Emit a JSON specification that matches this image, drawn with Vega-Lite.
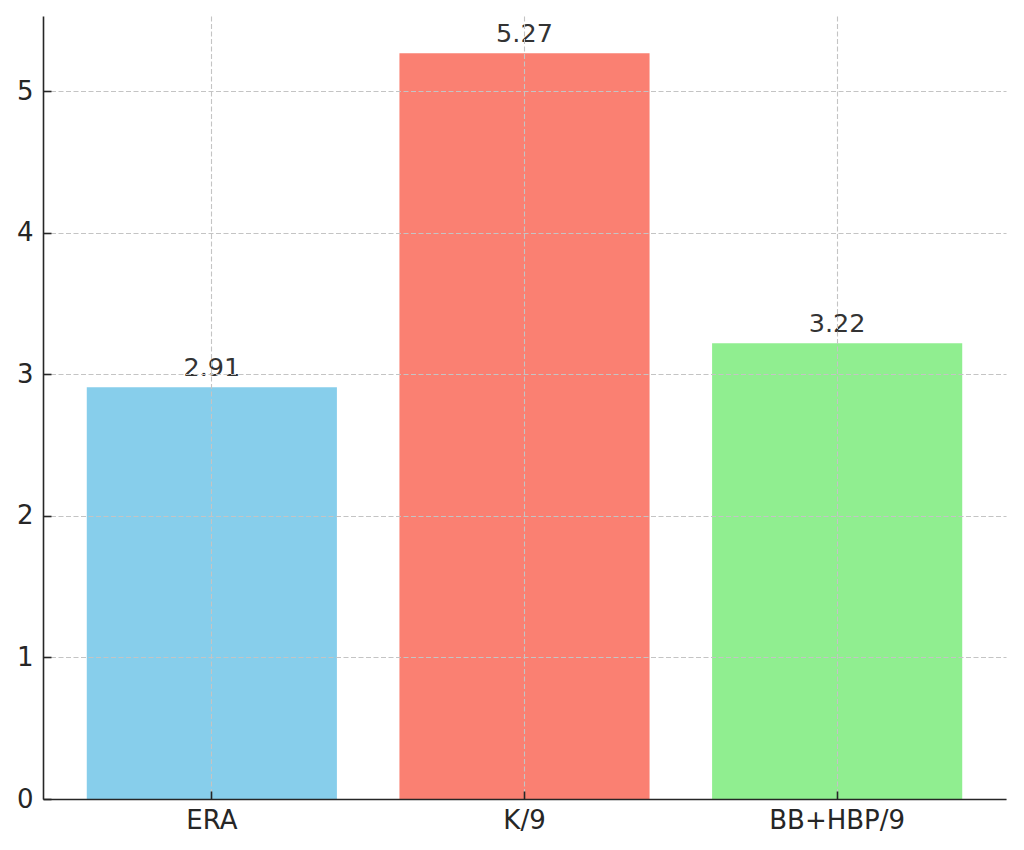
{
  "$schema": "https://vega.github.io/schema/vega-lite/v6.json",
  "width": 963,
  "height": 783,
  "autosize": "none",
  "padding": {"left": 43, "top": 16, "right": 18, "bottom": 51},
  "background": "white",
  "config": {
    "view": {"stroke": null},
    "font": "DejaVu Sans"
  },
  "data": {
    "values": [
      {"stat": "ERA", "value": 2.91},
      {"stat": "K/9", "value": 5.27},
      {"stat": "BB+HBP/9", "value": 3.22}
    ]
  },
  "encoding": {
    "x": {
      "field": "stat",
      "type": "nominal",
      "sort": null,
      "scale": {"paddingInner": 0.2, "paddingOuter": 0.14},
      "axis": {
        "title": null,
        "labelAngle": 0,
        "labelFontSize": 26,
        "labelColor": "#262626",
        "labelPadding": 16,
        "domainColor": "#262626",
        "domainWidth": 1.6,
        "tickColor": "#262626",
        "tickWidth": 1.6,
        "tickSize": -8,
        "grid": true,
        "gridColor": "#c4c4c4",
        "gridDash": [5, 2.5],
        "gridWidth": 1.1,
        "zindex": 1
      }
    },
    "y": {
      "field": "value",
      "type": "quantitative",
      "scale": {"domain": [0, 5.5335], "nice": false},
      "axis": {
        "title": null,
        "values": [0, 1, 2, 3, 4, 5],
        "labelFontSize": 26,
        "labelColor": "#262626",
        "labelPadding": 18,
        "domainColor": "#262626",
        "domainWidth": 1.6,
        "tickColor": "#262626",
        "tickWidth": 1.6,
        "tickSize": -8,
        "grid": true,
        "gridColor": "#c4c4c4",
        "gridDash": [5, 2.5],
        "gridWidth": 1.1,
        "zindex": 1
      }
    }
  },
  "layer": [
    {
      "mark": {"type": "bar"},
      "encoding": {
        "color": {
          "field": "stat",
          "type": "nominal",
          "scale": {
            "domain": ["ERA", "K/9", "BB+HBP/9"],
            "range": ["#87CEEB", "#FA8072", "#90EE90"]
          },
          "legend": null
        }
      }
    },
    {
      "mark": {
        "type": "text",
        "baseline": "alphabetic",
        "align": "center",
        "dy": -11,
        "fontSize": 25.5,
        "color": "#333333"
      },
      "encoding": {
        "text": {"field": "value", "type": "quantitative", "format": ".2f"}
      }
    }
  ]
}
